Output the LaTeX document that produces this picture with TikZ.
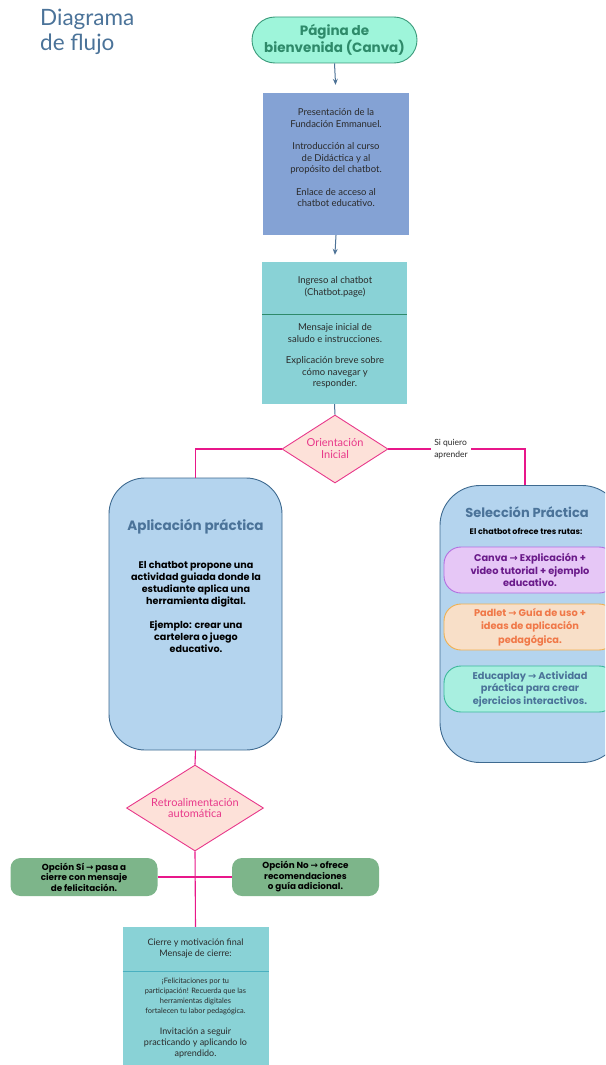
\documentclass[tikz,border=0pt]{standalone}
\usepackage{fontspec}
\setmainfont{Lato}
\newfontfamily\pop{Poppins}
\newfontfamily\dv{DejaVu Sans}
\newcommand{\rarr}{{\dv →}}
\usetikzlibrary{shapes.geometric,arrows.meta}
\definecolor{titleblue}{HTML}{4B7399}
\definecolor{mintfill}{HTML}{9EF5DA}
\definecolor{mintdraw}{HTML}{3A9A7A}
\definecolor{minttext}{HTML}{2E8A6A}
\definecolor{peri}{HTML}{84A2D4}
\definecolor{teal}{HTML}{89D2D6}
\definecolor{conn}{HTML}{4D7296}
\definecolor{pinkline}{HTML}{E8178A}
\definecolor{pinkfill}{HTML}{FDE1D9}
\definecolor{pinktext}{HTML}{E8388A}
\definecolor{lightblue}{HTML}{B4D4EE}
\definecolor{boxborder}{HTML}{3E6A90}
\definecolor{greenbox}{HTML}{7DB58A}
\definecolor{purplefill}{HTML}{E6C7F6}
\definecolor{purpledraw}{HTML}{B36EE0}
\definecolor{purpletext}{HTML}{6A1A8A}
\definecolor{peachfill}{HTML}{F8DFC8}
\definecolor{peachdraw}{HTML}{F0B050}
\definecolor{peachtext}{HTML}{F07848}
\definecolor{aquafill}{HTML}{A8EFE0}
\definecolor{aquadraw}{HTML}{3BB89A}
\definecolor{darktext}{HTML}{2A2A2A}
\definecolor{divteal}{HTML}{4AB0C0}
\tikzset{
  plain/.style={draw=none,inner sep=0pt,align=center,text=darktext},
  sqbox/.style={rectangle,inner sep=0pt},
  dec/.style={diamond,draw=pinktext,fill=pinkfill,line width=0.9pt,inner sep=0pt},
  dectext/.style={plain,text=pinktext,font=\fontsize{11}{12}\selectfont},
  pill/.style={rectangle,rounded corners=17,line width=0.9pt,minimum width=172,minimum height=46,inner sep=0pt},
  bconn/.style={draw=conn,line width=1pt},
  pconn/.style={draw=pinkline,line width=1.1pt},
}
\begin{document}
\begin{tikzpicture}[x=1pt,y=-1pt]
\useasboundingbox (0,0) rectangle (605,1065);
\clip (0,0) rectangle (605,1065);
% title
\node[plain,text=titleblue,align=left,anchor=north west,font=\fontsize{22.5}{24.5}\selectfont] (title) at (40,9) {Diagrama\\de flujo};
% top terminator
\node[sqbox,rounded corners=23,draw=mintdraw,fill=mintfill,line width=0.9pt,minimum width=165,minimum height=46,text=minttext,align=center,font=\pop\bfseries\fontsize{13.5}{15}\selectfont] (start) at (334.5,40) {Página de\\bienvenida (Canva)};
% box 1
\node[sqbox,fill=peri,minimum width=146,minimum height=142] (b1) at (336,164) {};
\node[plain,font=\fontsize{9.5}{11.5}\selectfont] (b1t) at (336,158) {Presentación de la\\Fundación Emmanuel.\\[11pt]Introducción al curso\\de Didáctica y al\\propósito del chatbot.\\[11pt]Enlace de acceso al\\chatbot educativo.};
% box 2
\node[sqbox,fill=teal,minimum width=145,minimum height=142] (b2) at (334.5,333) {};
\coordinate (b2dl) at (262,314.5);
\coordinate (b2dr) at (407,314.5);
\draw[minttext,line width=1.2pt] (b2dl) -- (b2dr);
\node[plain,font=\fontsize{9.5}{11.5}\selectfont] (b2a) at (335,287) {Ingreso al chatbot\\(Chatbot.page)};
\node[plain,font=\fontsize{9.5}{11.5}\selectfont] (b2b) at (335,356) {Mensaje inicial de\\saludo e instrucciones.\\[10pt]Explicación breve sobre\\cómo navegar y\\responder.};
% diamond 1
\node[dec,minimum width=106,minimum height=68] (d1) at (335,449) {};
\node[dectext] (d1t) at (335,449) {Orientación\\Inicial};
% aplicacion
\node[sqbox,rounded corners=36,draw=boxborder,fill=lightblue,line width=0.9pt,minimum width=173,minimum height=272] (app) at (195.5,614) {};
\node[plain,text=titleblue,font=\pop\bfseries\fontsize{13.5}{15}\selectfont] (appt) at (195.5,527) {Aplicación práctica};
\node[plain,text=black,font=\pop\bfseries\fontsize{9.6}{12}\selectfont] (appb) at (196,607) {El chatbot propone una\\actividad guiada donde la\\estudiante aplica una\\herramienta digital.\\[12pt]Ejemplo: crear una\\cartelera o juego\\educativo.};
% seleccion
\node[sqbox,rounded corners=40,draw=boxborder,fill=lightblue,line width=0.9pt,minimum width=182,minimum height=277] (sel) at (531,624) {};
\node[plain,text=titleblue,font=\pop\bfseries\fontsize{13}{15}\selectfont] (selt) at (527,512) {Selección Práctica};
\node[plain,text=black,font=\pop\bfseries\fontsize{8}{10}\selectfont] (sels) at (526,531) {El chatbot ofrece tres rutas:};
\node[pill,draw=purpledraw,fill=purplefill,text=purpletext,align=center,font=\pop\bfseries\fontsize{9.8}{12.5}\selectfont] (canva) at (530,570) {Canva \rarr{} Explicación +\\video tutorial + ejemplo\\educativo.};
\node[pill,draw=peachdraw,fill=peachfill,text=peachtext,align=center,font=\pop\bfseries\fontsize{9.8}{13.5}\selectfont] (padlet) at (530,627) {Padlet \rarr{} Guía de uso +\\ideas de aplicación\\pedagógica.};
\node[pill,draw=aquadraw,fill=aquafill,text=titleblue,align=center,font=\pop\bfseries\fontsize{9.8}{12.5}\selectfont] (educa) at (530,689) {Educaplay \rarr{} Actividad\\práctica para crear\\ejercicios interactivos.};
% diamond 2
\node[dec,minimum width=137,minimum height=86] (d2) at (195,808) {};
\node[dectext,font=\fontsize{11}{11}\selectfont] (d2t) at (195,808) {Retroalimentación\\automática};
% green boxes
\node[sqbox,rounded corners=10,fill=greenbox,minimum width=147,minimum height=38,align=center,text=black,font=\pop\bfseries\fontsize{8.8}{10.5}\selectfont] (yes) at (84,877) {Opción Sí \rarr{} pasa a\\cierre con mensaje\\de felicitación.};
\node[sqbox,rounded corners=10,fill=greenbox,minimum width=147,minimum height=38,align=center,text=black,font=\pop\bfseries\fontsize{8.8}{10.5}\selectfont] (no) at (305.5,877) {Opción No \rarr{} ofrece\\recomendaciones\\o guía adicional.};
% final box
\node[sqbox,fill=teal,minimum width=146,minimum height=145] (fin) at (195.5,999.5) {};
\coordinate (findl) at (122.5,971.5);
\coordinate (findr) at (268.5,971.5);
\draw[divteal,line width=1.4pt] (findl) -- (findr);
\node[plain,font=\fontsize{9}{11}\selectfont] (fina) at (195.5,948.5) {Cierre y motivación final\\Mensaje de cierre:};
\node[plain,font=\fontsize{7.4}{9.8}\selectfont] (finb) at (195.5,996.5) {¡Felicitaciones por tu\\participación! Recuerda que las\\herramientas digitales\\fortalecen tu labor pedagógica.};
\node[plain,font=\fontsize{9}{11}\selectfont] (finc) at (195.5,1043) {Invitación a seguir\\practicando y aplicando lo\\aprendido.};
% connectors
\draw[bconn,-{Stealth[length=6pt,width=5pt]},shorten >=8pt] (start.south) -- (b1.north);
\draw[bconn,-{Stealth[length=6pt,width=5pt]},shorten >=7pt] (b1.south) -- (b2.north);
\draw[bconn] (b2.south) -- (d1.north);
\draw[pconn] (d1.west) -| (app.north);
\coordinate (rturn) at (525,449);
\draw[pconn] (d1.east) -- (rturn) -- (rturn |- sel.north);
\node[plain,fill=white,inner xsep=3pt,inner ysep=1pt,align=left,font=\fontsize{8.5}{12}\selectfont] (si) at (451,449.5) {Si quiero\\aprender};
\draw[pconn] (app.south) -- (d2.north);
\draw[pconn] (d2.south) -- (fin.north);
\draw[pconn] (yes.east) -- (no.west);
\end{tikzpicture}
\end{document}
